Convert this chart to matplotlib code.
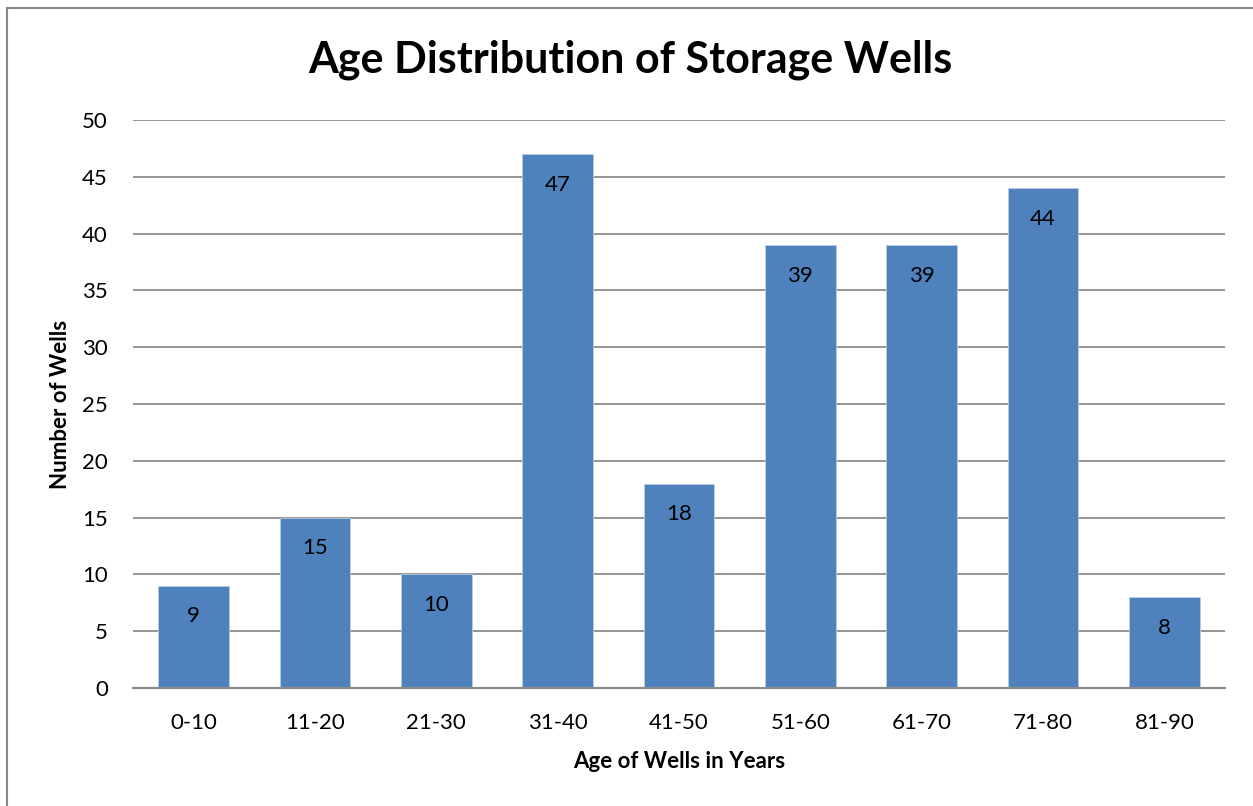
import matplotlib
matplotlib.use('Agg')
import matplotlib.pyplot as plt
from matplotlib.lines import Line2D
import numpy as np

plt.rcParams['font.family'] = ['Lato', 'DejaVu Sans']

age_groups = ["0-10", "11-20", "21-30", "31-40", "41-50", "51-60", "61-70", "71-80", "81-90"]
wells = [9, 15, 10, 47, 18, 39, 39, 44, 8]

fig = plt.figure(figsize=(12.53, 8.06), dpi=100)
ax = fig.add_axes([133/1253, 1 - 688/806, (1225-133)/1253, (688-120)/806])

x = np.arange(len(age_groups))
bars = ax.bar(x, wells, width=0.58, color="#4F81BD", edgecolor="#B9CDE5", linewidth=0.6, zorder=3)

# value labels inside the top of each bar
for b in bars:
    h = b.get_height()
    ax.annotate(str(int(h)), (b.get_x() + b.get_width()/2, h), xytext=(0, -22),
                textcoords='offset points', ha='center', va='center', fontsize=16, zorder=4)

ax.set_xlim(-0.5, len(age_groups) - 0.5)
ax.set_ylim(0, 50)
ax.set_yticks(range(0, 51, 5))
ax.set_xticks(x)
ax.set_xticklabels(age_groups)
ax.tick_params(axis='both', length=0, labelsize=16)
ax.tick_params(axis='y', pad=18)
ax.tick_params(axis='x', pad=18)
ax.grid(axis='y', color='#8c8c8c', linewidth=1.3, zorder=0)
for s in ['top', 'right', 'left']:
    ax.spines[s].set_visible(False)
ax.spines['bottom'].set_color('#8c8c8c')
ax.spines['bottom'].set_linewidth(1.6)
ax.spines['bottom'].set_zorder(5)

ax.set_xlabel("Age of Wells in Years", fontsize=16, fontweight='bold', labelpad=13)
ax.set_ylabel("Number of Wells", fontsize=16, fontweight='bold', labelpad=8)
fig.text(630/1253, 1 - 60/806, "Age Distribution of Storage Wells", ha='center', va='center',
         fontsize=31, fontweight='bold')

# outer chart border (left and top only visible)
fig.add_artist(Line2D([7/1253, 7/1253], [0, 1 - 8/806], transform=fig.transFigure, color='#888888', linewidth=1.5))
fig.add_artist(Line2D([7/1253, 1], [1 - 8/806, 1 - 8/806], transform=fig.transFigure, color='#888888', linewidth=1.5))

plt.savefig("out.png", dpi=100)
